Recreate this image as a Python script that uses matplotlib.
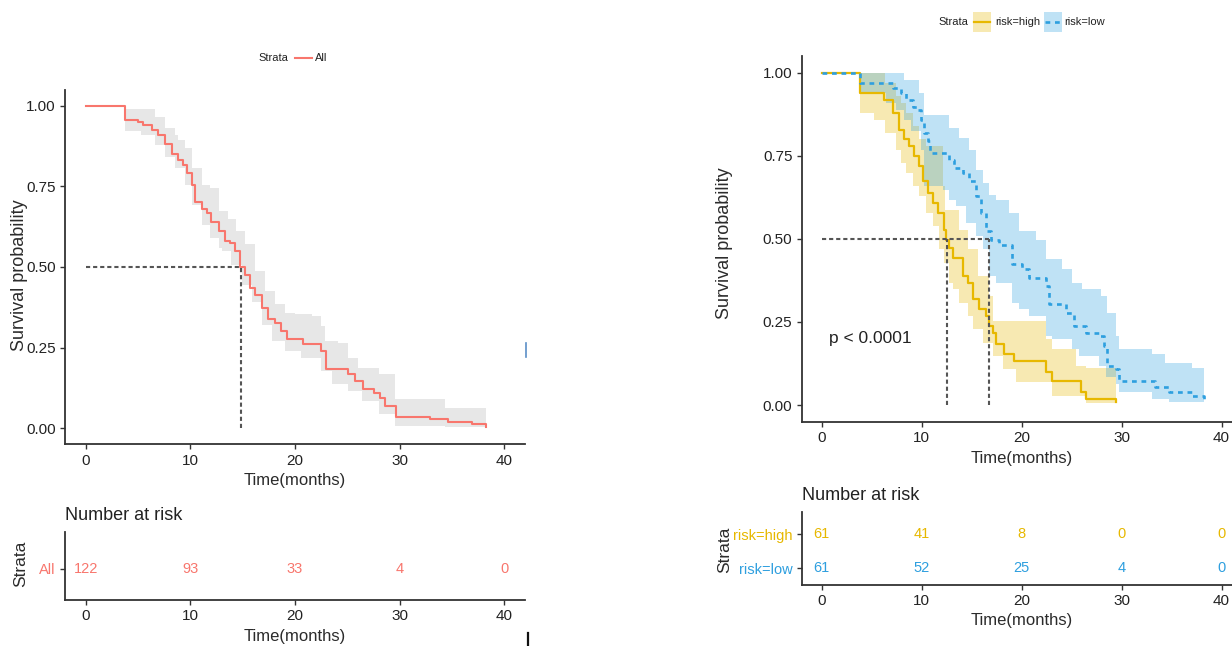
import matplotlib
matplotlib.use("Agg")
import matplotlib.pyplot as plt
from matplotlib.lines import Line2D
from matplotlib.patches import Rectangle

plt.rcParams['font.family'] = ['Liberation Sans', 'DejaVu Sans']

# ---------------- data ----------------
# Left panel: all patients
all_time = [0, 3.7, 5.0, 5.5, 6.3, 6.9, 7.6, 8.2, 8.85, 9.3, 9.65, 10.1, 10.45, 11.1, 11.6,
            12.0, 12.7, 13.3, 13.8, 14.3, 14.75, 15.2, 15.7, 16.2, 16.8, 17.45, 18.1, 18.7,
            19.2, 20.8, 22.5, 23.0, 25.1, 25.7, 26.5, 27.6, 28.1, 28.6, 29.7, 32.9, 34.6,
            36.9, 38.3]
all_surv = [1.0, 0.956, 0.948, 0.94, 0.925, 0.91, 0.88, 0.85, 0.83, 0.816, 0.79, 0.755, 0.70,
            0.68, 0.667, 0.64, 0.61, 0.58, 0.575, 0.55, 0.50, 0.476, 0.435, 0.414, 0.373,
            0.337, 0.327, 0.30, 0.275, 0.26, 0.24, 0.182, 0.167, 0.146, 0.12, 0.11, 0.095,
            0.069, 0.035, 0.028, 0.018, 0.012, 0.004]
all_ci_time = [0, 3.7, 5.3, 6.6, 7.6, 8.5, 8.85, 9.5, 10.1, 11.1, 11.9, 12.7, 13.0, 13.6, 13.9,
               14.4, 14.9, 15.2, 15.9, 16.2, 16.8, 17.1, 17.8, 18.1, 19.0, 20.0, 20.6, 21.6,
               22.5, 22.9, 23.5, 24.1, 25.1, 26.0, 26.4, 28.0, 29.6, 34.3, 38.3]
all_ci_low = [1.0, 0.92, 0.91, 0.878, 0.842, 0.806, 0.806, 0.755, 0.693, 0.63, 0.59, 0.56,
              0.548, 0.548, 0.507, 0.507, 0.445, 0.445, 0.39, 0.39, 0.32, 0.32, 0.27, 0.27,
              0.24, 0.24, 0.218, 0.218, 0.177, 0.177, 0.136, 0.136, 0.115, 0.115, 0.085,
              0.043, 0.007, 0.003, 0.003]
all_ci_high = [1.0, 0.99, 0.99, 0.966, 0.93, 0.91, 0.894, 0.868, 0.806, 0.755, 0.744, 0.672,
               0.672, 0.65, 0.65, 0.61, 0.61, 0.57, 0.57, 0.487, 0.487, 0.425, 0.425, 0.384,
               0.358, 0.353, 0.353, 0.347, 0.316, 0.27, 0.27, 0.265, 0.218, 0.188, 0.188,
               0.167, 0.09, 0.064, 0.064]
all_median = 14.8

# Right panel: risk groups
high_time = [0, 3.8, 6.25, 7.1, 7.75, 8.2, 8.7, 9.2, 9.7, 10.1, 10.6, 11.1, 11.6, 12.2, 12.4,
             12.7, 13.1, 14.1, 14.6, 15.1, 15.7, 16.4, 16.7, 17.1, 17.4, 18.2, 19.2, 22.4,
             23.0, 25.9, 26.4, 29.4]
high_surv = [1.0, 0.938, 0.918, 0.878, 0.828, 0.80, 0.778, 0.748, 0.718, 0.673, 0.638, 0.608,
             0.578, 0.528, 0.498, 0.473, 0.443, 0.388, 0.368, 0.318, 0.288, 0.268, 0.238,
             0.218, 0.183, 0.153, 0.133, 0.10, 0.073, 0.038, 0.018, 0.008]
high_ci_time = [0, 3.8, 5.25, 6.3, 7.4, 7.9, 8.4, 9.1, 9.7, 10.4, 11.1, 11.7, 12.1, 12.2, 12.3,
                12.7, 13.1, 13.7, 14.6, 15.1, 15.6, 16.1, 16.7, 17.1, 18.1, 19.4, 22.4, 23.0,
                25.4, 26.4, 29.4]
high_ci_low = [1.0, 0.878, 0.858, 0.818, 0.768, 0.728, 0.698, 0.658, 0.628, 0.578, 0.538,
               0.468, 0.468, 0.428, 0.428, 0.368, 0.348, 0.308, 0.268, 0.228, 0.228, 0.188,
               0.188, 0.148, 0.108, 0.068, 0.068, 0.028, 0.028, 0.006, 0.006]
high_ci_high = [1.0, 1.0, 1.0, 0.97, 0.93, 0.91, 0.88, 0.84, 0.80, 0.78, 0.78, 0.78, 0.658,
                0.658, 0.588, 0.588, 0.588, 0.528, 0.468, 0.468, 0.388, 0.388, 0.328, 0.253,
                0.253, 0.253, 0.20, 0.168, 0.118, 0.113, 0.113]
high_median = 12.5

low_time = [0, 3.8, 7.1, 7.9, 8.4, 9.1, 9.6, 9.9, 10.2, 10.6, 10.8, 12.7, 13.2, 14.1, 14.7,
            15.4, 15.9, 16.4, 16.9, 17.7, 19.0, 20.0, 20.7, 22.4, 22.7, 24.4, 25.2, 26.4,
            27.7, 28.2, 28.5, 29.4, 29.7, 33.3, 34.7, 37.0, 38.2]
low_surv = [1.0, 0.97, 0.953, 0.938, 0.918, 0.898, 0.888, 0.858, 0.818, 0.793, 0.758, 0.738,
            0.713, 0.698, 0.673, 0.628, 0.578, 0.523, 0.498, 0.483, 0.423, 0.408, 0.383,
            0.358, 0.303, 0.278, 0.238, 0.218, 0.208, 0.178, 0.118, 0.108, 0.073, 0.053,
            0.038, 0.028, 0.016]
low_ci_time = [0, 3.8, 6.4, 7.4, 8.2, 8.9, 9.7, 9.9, 10.2, 12.1, 12.7, 13.4, 13.7, 14.4, 14.7,
               15.4, 16.1, 16.7, 17.4, 18.7, 19.0, 19.7, 20.7, 21.4, 22.4, 23.0, 24.0, 25.0,
               25.7, 26.0, 27.7, 27.9, 28.4, 28.5, 29.4, 29.7, 33.0, 34.3, 34.7, 37.0, 38.2]
low_ci_low = [1.0, 0.938, 0.908, 0.888, 0.858, 0.823, 0.823, 0.768, 0.658, 0.648, 0.618,
              0.598, 0.598, 0.548, 0.548, 0.508, 0.468, 0.388, 0.368, 0.368, 0.308, 0.288,
              0.268, 0.268, 0.208, 0.198, 0.198, 0.168, 0.148, 0.148, 0.118, 0.118, 0.083,
              0.083, 0.063, 0.038, 0.018, 0.018, 0.01, 0.01, 0.01]
low_ci_high = [1.0, 1.0, 1.0, 1.0, 0.978, 0.978, 0.94, 0.94, 0.873, 0.873, 0.833, 0.833,
               0.803, 0.803, 0.768, 0.708, 0.668, 0.633, 0.618, 0.578, 0.578, 0.523, 0.523,
               0.498, 0.438, 0.438, 0.408, 0.368, 0.368, 0.348, 0.348, 0.328, 0.328, 0.278,
               0.208, 0.168, 0.153, 0.128, 0.128, 0.113, 0.113]
low_median = 16.7

risk_times = [0, 10, 20, 30, 40]
risk_all = [122, 93, 33, 4, 0]
risk_high = [61, 41, 8, 0, 0]
risk_low = [61, 52, 25, 4, 0]
pval_text = "p < 0.0001"

# ---------------- style ----------------
C_ALL = '#F8766D'
C_HIGH = '#E7B800'
C_LOW = '#2E9FDF'
C_TXT = '#222222'
C_AX = '#333333'
C_TITLE = '#2b2b2b'
W, H = 1232, 646
fig = plt.figure(figsize=(W / 100, H / 100), dpi=100)


def rect(l, r, t, b):
    return [l / W, 1 - b / H, (r - l) / W, (b - t) / H]


def style_axes(ax):
    for s in ['top', 'right']:
        ax.spines[s].set_visible(False)
    for s in ['left', 'bottom']:
        ax.spines[s].set_color(C_AX)
        ax.spines[s].set_linewidth(1.3)
    ax.tick_params(axis='both', colors=C_AX, length=3.5, width=1.0, labelsize=11,
                   labelcolor=C_TXT, pad=3.2)
    ax.set_facecolor('none')


def median_lines(ax, meds):
    kw = dict(color='#555555', lw=1.5, dashes=(2, 1.4), zorder=4)
    ax.plot([0, max(meds)], [0.5, 0.5], **kw)
    for m in meds:
        ax.plot([m, m], [0, 0.5], **kw)


def main_axes(ax, ylab_xy, xlab_y):
    style_axes(ax)
    ax.set_xlim(-2, 42)
    ax.set_ylim(-0.05, 1.05)
    ax.set_xticks(risk_times)
    ax.set_yticks([0, 0.25, 0.5, 0.75, 1.0])
    ax.set_yticklabels(['0.00', '0.25', '0.50', '0.75', '1.00'])
    ax.set_ylabel('Survival probability', fontsize=13, color=C_TITLE)
    ax.yaxis.set_label_coords(*ylab_xy)
    ax.set_xlabel('Time(months)', fontsize=12, color=C_TITLE)
    ax.xaxis.set_label_coords(0.5, xlab_y)


# ---------------- left main ----------------
axL = fig.add_axes(rect(65, 525, 89.5, 444.3))
main_axes(axL, (-0.0815, 0.477), -0.082)
axL.fill_between(all_ci_time, all_ci_low, all_ci_high, step='post', color='#d4d4d4',
                 alpha=0.55, lw=0, zorder=1)
axL.step(all_time, all_surv, where='post', color=C_ALL, lw=1.5, zorder=3)
median_lines(axL, [all_median])

# ---------------- right main ----------------
axR = fig.add_axes(rect(801.7, 1241.6, 56.0, 421.7))
main_axes(axR, (-0.157, 0.487), -0.081)
axR.fill_between(high_ci_time, high_ci_low, high_ci_high, step='post', color=C_HIGH,
                 alpha=0.3, lw=0, zorder=1)
axR.fill_between(low_ci_time, low_ci_low, low_ci_high, step='post', color=C_LOW,
                 alpha=0.3, lw=0, zorder=1)
axR.step(high_time, high_surv, where='post', color=C_HIGH, lw=1.6, zorder=3)
axR.step(low_time, low_surv, where='post', color=C_LOW, lw=1.9, dashes=(1.8, 1.8), zorder=3)
median_lines(axR, [high_median, low_median])
axR.text(0.7, 0.2, pval_text, fontsize=12.5, color=C_TXT, ha='left', va='center')

# ---------------- risk tables ----------------
def table_axes(ax, labels, colors, rows, ylim, ylab_xy, xlab_y, title_y):
    style_axes(ax)
    ax.set_xlim(-2, 42)
    ax.set_ylim(*ylim)
    ax.set_xticks(risk_times)
    ax.set_yticks(rows)
    ax.set_yticklabels(labels, fontsize=10.5)
    for tl, c in zip(ax.get_yticklabels(), colors):
        tl.set_color(c)
    ax.set_ylabel('Strata', fontsize=12.5, color=C_TITLE)
    ax.yaxis.set_label_coords(*ylab_xy)
    ax.set_xlabel('Time(months)', fontsize=12, color=C_TITLE)
    ax.xaxis.set_label_coords(0.5, xlab_y)
    ax.text(0.0, title_y, 'Number at risk', transform=ax.transAxes, fontsize=13,
            color=C_TXT, ha='left', va='center')


tL = fig.add_axes(rect(65, 525, 532, 600))
table_axes(tL, ['All'], [C_ALL], [1], (0.38, 1.74), (-0.079, 0.53), -0.42, 1.25)
for t, n in zip(risk_times, risk_all):
    tL.text(t, 1, str(n), color=C_ALL, fontsize=10.5, ha='center', va='center')

tR = fig.add_axes(rect(801.7, 1241.6, 512, 585))
table_axes(tR, ['risk=high', 'risk=low'], [C_HIGH, C_LOW], [2, 1], (0.51, 2.66),
           (-0.157, 0.479), -0.39, 1.226)
for t, a, b in zip(risk_times, risk_high, risk_low):
    tR.text(t, 2, str(a), color=C_HIGH, fontsize=10.5, ha='center', va='center')
    tR.text(t, 1, str(b), color=C_LOW, fontsize=10.5, ha='center', va='center')

# ---------------- legends ----------------
def fx(x):
    return x / W


def fy(y):
    return 1 - y / H


LEG = 8
fig.text(fx(258), fy(58), 'Strata', fontsize=LEG, color=C_TXT, ha='left', va='center')
fig.add_artist(Line2D([fx(295), fx(312)], [fy(58), fy(58)], color=C_ALL, lw=1.5))
fig.text(fx(315), fy(58), 'All', fontsize=LEG, color=C_TXT, ha='left', va='center')

fig.text(fx(938), fy(22), 'Strata', fontsize=LEG, color=C_TXT, ha='left', va='center')
fig.add_artist(Rectangle((fx(973), fy(32)), fx(18), 20 / H, color=C_HIGH, alpha=0.3, lw=0))
fig.add_artist(Line2D([fx(974), fx(990)], [fy(22), fy(22)], color=C_HIGH, lw=1.6))
fig.text(fx(995), fy(22), 'risk=high', fontsize=LEG, color=C_TXT, ha='left', va='center')
fig.add_artist(Rectangle((fx(1044), fy(32)), fx(18), 20 / H, color=C_LOW, alpha=0.3, lw=0))
fig.add_artist(Line2D([fx(1045), fx(1061)], [fy(22), fy(22)], color=C_LOW, lw=1.9,
                      dashes=(1.8, 1.8)))
fig.text(fx(1064), fy(22), 'risk=low', fontsize=LEG, color=C_TXT, ha='left', va='center')

# stray marks present in the original composite
fig.add_artist(Line2D([fx(526), fx(526)], [fy(343), fy(357)], color='#5b8fc7', lw=1.2))
fig.add_artist(Line2D([fx(528), fx(528)], [fy(633), fy(646)], color='#111111', lw=1.6))

fig.savefig('out.png', dpi=100)
